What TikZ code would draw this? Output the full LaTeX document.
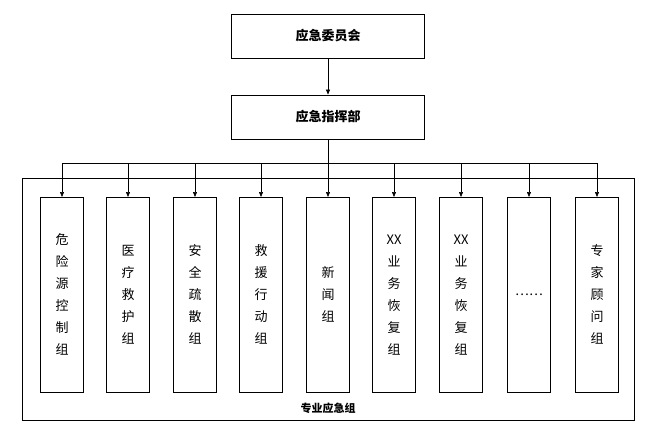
\documentclass[tikz,border=0pt]{standalone}
\usepackage{fontspec}
\setmainfont{Liberation Serif}
\newfontfamily\cjk{Noto Sans CJK SC}
\usetikzlibrary{arrows.meta}
\begin{document}
\begin{tikzpicture}[x=1pt,y=-1pt,
  top/.style={draw,line width=0.8pt,minimum width=193pt,minimum height=44pt,font=\cjk\bfseries\fontsize{13}{15}\selectfont},
  col/.style={draw,line width=0.6pt,minimum width=43pt,minimum height=195pt,anchor=north,align=center,font=\cjk\fontsize{13}{22}\selectfont},
  arr/.style={-{Triangle[length=5pt,width=4pt]},line width=0.6pt}]
\useasboundingbox (0,0) rectangle (654,444);
\node[top] (a) at (328,36) {应急委员会};
\node[top] (b) at (328,117) {应急指挥部};
\draw[arr] (a) -- (b);
\node[draw,line width=0.8pt,minimum width=612pt,minimum height=242pt] (outer) at (328,299) {};
\node[font=\cjk\bfseries\fontsize{11}{13}\selectfont] (lbl) at (328,408) {专业应急组};
\coordinate (bus) at (328,163);
\draw[line width=0.6pt] (b) -- (bus);
\foreach \n/\x/\t in {c1/62/危\\险\\源\\控\\制\\组, c2/128/医\\疗\\救\\护\\组, c3/195/安\\全\\疏\\散\\组, c4/261/救\\援\\行\\动\\组, c5/328/新\\闻\\组, c6/394/XX\\业\\务\\恢\\复\\组, c7/461/XX\\业\\务\\恢\\复\\组, c8/529/……, c9/597/专\\家\\顾\\问\\组}{
  \node[col] (\n) at (\x,197) {\t};
  \coordinate (\n t) at (\x,163);
  \draw[arr] (\n t) -- (\n.north);
}
\draw[line width=0.6pt] (c1t) -- (c9t);
\end{tikzpicture}
\end{document}
